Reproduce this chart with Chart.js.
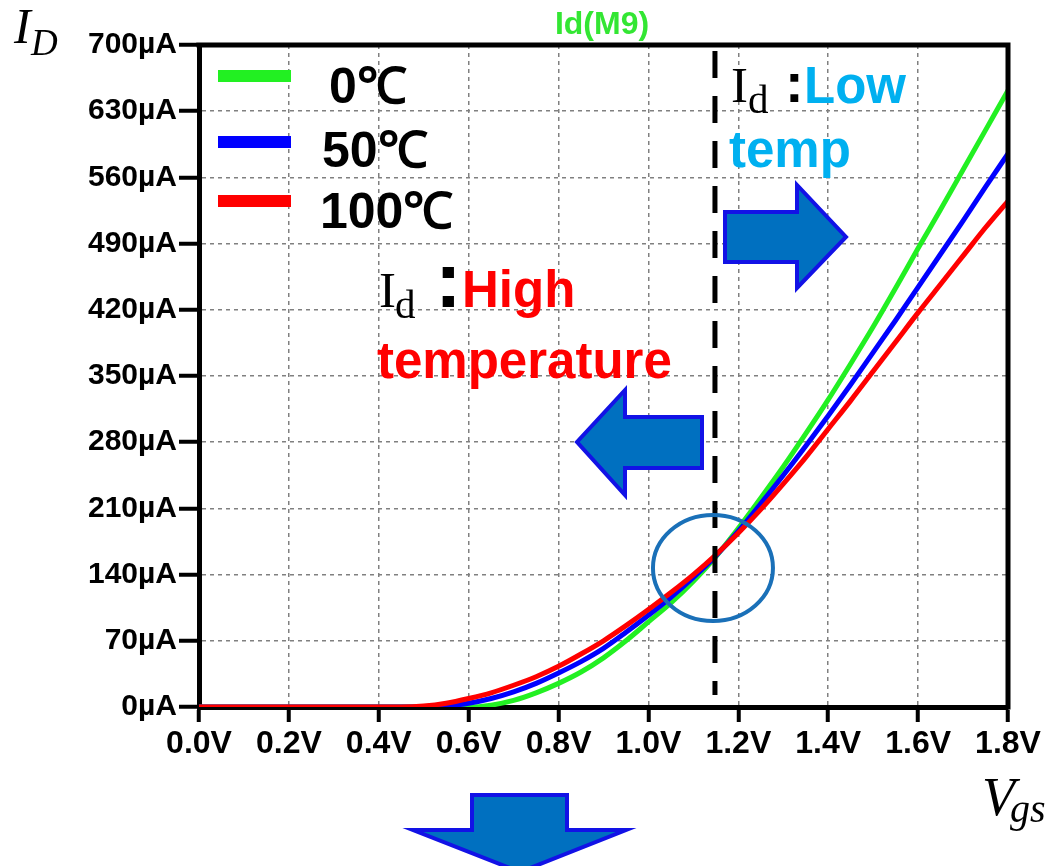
<!DOCTYPE html>
<html>
<head>
<meta charset="utf-8">
<script src="https://cdn.jsdelivr.net/npm/chart.js@4.4.1/dist/chart.umd.min.js"></script>
<style>
  html, body { margin: 0; padding: 0; background: #fff; overflow: hidden; }
  canvas { display: block; }
</style>
</head>
<body>
<canvas id="c" width="1056" height="866"></canvas>
<script>
// Gate voltage sweep (V)
const VGS = [0.0, 0.45, 0.5, 0.55, 0.6, 0.65, 0.7, 0.75, 0.8, 0.85, 0.9, 0.95, 1.0, 1.05, 1.1,
             1.15, 1.2, 1.25, 1.3, 1.35, 1.4, 1.45, 1.5, 1.55, 1.6, 1.65, 1.7, 1.75, 1.8];
// Drain current Id(M9) in µA at each temperature
const ID_0C   = [0, 0, 0, 0, 0, 2, 7, 15, 25, 37, 52, 70, 90, 110, 133,
                 159, 189, 221, 254, 289, 325, 363, 402, 443, 485, 526, 568, 610, 652];
const ID_50C  = [0, 0, 0, 1, 4, 9, 16, 25, 36, 48, 62, 79, 97, 116, 137,
                 160, 186, 215, 245, 276, 308, 341, 375, 409, 444, 479, 514, 550, 585];
const ID_100C = [0, 0, 1, 4, 9, 15, 23, 32, 43, 56, 70, 86, 103, 121, 140,
                 161, 184, 209, 236, 264, 294, 324, 355, 386, 417, 447, 477, 507, 535];
const SERIES_LABELS = ['0℃', '50℃', '100℃'];
const SERIES_COLORS = ['#22f022', '#0000ff', '#ff0000'];
const X_TICKS = [0.0, 0.2, 0.4, 0.6, 0.8, 1.0, 1.2, 1.4, 1.6, 1.8];
const Y_TICKS = [0, 70, 140, 210, 280, 350, 420, 490, 560, 630, 700];
const CROSS_VGS = 1.148;   // temperature-compensation point (V)
const CROSS_ID = 147;      // current at that point (µA)

const toXY = ys => VGS.map((v, i) => ({ x: v, y: ys[i] }));

const SANS = '"Liberation Sans", Arial, sans-serif';
const SERIF = '"Liberation Serif", "Times New Roman", serif';

function blockArrow(ctx, pts) {
  ctx.beginPath();
  ctx.moveTo(pts[0][0], pts[0][1]);
  for (let i = 1; i < pts.length; i++) ctx.lineTo(pts[i][0], pts[i][1]);
  ctx.closePath();
  ctx.fillStyle = '#0070c0';
  ctx.fill();
  ctx.lineWidth = 4;
  ctx.lineJoin = 'miter';
  ctx.strokeStyle = '#1212e6';
  ctx.stroke();
}

const decorations = {
  id: 'decorations',
  afterDatasetsDraw(chart) {
    const { ctx, chartArea: a, scales: { x, y } } = chart;
    ctx.save();

    // top and right frame
    ctx.strokeStyle = '#000';
    ctx.lineWidth = 5;
    ctx.lineCap = 'square';
    ctx.beginPath();
    ctx.moveTo(a.left, a.top);
    ctx.lineTo(a.right, a.top);
    ctx.lineTo(a.right, a.bottom);
    ctx.stroke();
    ctx.lineCap = 'butt';

    // chart title
    ctx.fillStyle = '#33e633';
    ctx.font = 'bold 32px ' + SANS;
    ctx.textAlign = 'center';
    ctx.textBaseline = 'alphabetic';
    ctx.fillText('Id(M9)', 602, 34);
    ctx.textAlign = 'left';

    // legend
    const legendY = [76, 142, 201];
    const legendTextX = [329, 322, 320];
    const legendBase = [103, 167, 228];
    chart.data.datasets.forEach((ds, i) => {
      ctx.strokeStyle = ds.borderColor;
      ctx.lineWidth = 12;
      ctx.beginPath();
      ctx.moveTo(218, legendY[i]);
      ctx.lineTo(291, legendY[i]);
      ctx.stroke();
      ctx.fillStyle = '#000';
      ctx.font = 'bold 50px ' + SANS;
      ctx.fillText(ds.label, legendTextX[i], legendBase[i]);
    });

    // dashed marker at the compensation point
    const cx = x.getPixelForValue(CROSS_VGS);
    ctx.strokeStyle = '#000';
    ctx.lineWidth = 5;
    ctx.setLineDash([27, 18]);
    ctx.beginPath();
    ctx.moveTo(cx, a.top + 6);
    ctx.lineTo(cx, a.bottom - 12);
    ctx.stroke();
    ctx.setLineDash([]);

    // circle around the crossing of the three curves
    ctx.strokeStyle = '#1a70b8';
    ctx.lineWidth = 4;
    ctx.beginPath();
    ctx.ellipse(cx - 2, y.getPixelForValue(CROSS_ID), 60, 53, 0, 0, Math.PI * 2);
    ctx.stroke();

    // "Id : High temperature"
    ctx.fillStyle = '#000';
    ctx.font = '51px ' + SERIF;
    ctx.fillText('I', 379, 307);
    ctx.font = '41px ' + SERIF;
    ctx.fillText('d', 395, 318);
    ctx.font = 'bold 80px ' + SANS;
    ctx.fillText(':', 435, 307);
    ctx.fillStyle = '#ff0000';
    ctx.font = 'bold 51px ' + SANS;
    ctx.fillText('High', 462, 307);
    ctx.fillText('temperature', 377, 378);

    // "Id : Low temp"
    ctx.fillStyle = '#000';
    ctx.font = '51px ' + SERIF;
    ctx.fillText('I', 731, 102);
    ctx.font = '41px ' + SERIF;
    ctx.fillText('d', 748, 113);
    ctx.font = 'bold 56px ' + SANS;
    ctx.fillText(':', 785, 102);
    ctx.fillStyle = '#00b0f0';
    ctx.font = 'bold 51px ' + SANS;
    ctx.fillText('Low', 804, 103);
    ctx.fillText('temp', 729, 167);

    // direction arrows
    blockArrow(ctx, [[725, 212], [797, 212], [797, 185], [846, 237], [797, 288], [797, 262], [725, 262]]);
    blockArrow(ctx, [[702, 417], [625, 417], [625, 390], [577, 442], [625, 495], [625, 468], [702, 468]]);
    blockArrow(ctx, [[472, 795], [567, 795], [567, 830], [626, 830], [520, 872], [413, 830], [472, 830]]);

    // axis titles
    ctx.fillStyle = '#000';
    ctx.font = 'italic 50px ' + SERIF;
    ctx.fillText('I', 14, 43);
    ctx.font = 'italic 37px ' + SERIF;
    ctx.fillText('D', 31, 55);
    ctx.font = 'italic 54px ' + SERIF;
    ctx.fillText('V', 982, 815);
    ctx.font = 'italic 40px ' + SERIF;
    ctx.fillText('gs', 1010, 822);

    ctx.restore();
  }
};

new Chart(document.getElementById('c'), {
  type: 'line',
  data: {
    datasets: [
      { label: SERIES_LABELS[0], data: toXY(ID_0C),   borderColor: SERIES_COLORS[0], order: 3 },
      { label: SERIES_LABELS[1], data: toXY(ID_50C),  borderColor: SERIES_COLORS[1], order: 2 },
      { label: SERIES_LABELS[2], data: toXY(ID_100C), borderColor: SERIES_COLORS[2], order: 1 }
    ]
  },
  options: {
    responsive: false,
    animation: false,
    devicePixelRatio: 1,
    layout: { padding: { left: 0, top: 45, right: 48, bottom: 0 } },
    elements: {
      point: { radius: 0 },
      line: { borderWidth: 5, cubicInterpolationMode: 'monotone', fill: false }
    },
    plugins: { legend: { display: false }, tooltip: { enabled: false }, title: { display: false } },
    scales: {
      x: {
        type: 'linear',
        min: 0, max: 1.8,
        afterBuildTicks: s => { s.ticks = X_TICKS.map(v => ({ value: v })); },
        afterFit: s => { s.height = 159; },
        ticks: {
          color: '#000',
          font: { family: SANS, size: 32, weight: 'bold' },
          padding: 3,
          maxRotation: 0,
          autoSkip: false,
          callback: v => v.toFixed(1) + 'V'
        },
        grid: {
          color: '#808080', lineWidth: 1.5,
          tickColor: '#000', tickWidth: 4, tickLength: 15, tickBorderDash: [0, 0]
        },
        border: { display: true, color: '#000', width: 5, dash: [4, 4] }
      },
      y: {
        type: 'linear',
        min: 0, max: 700,
        afterBuildTicks: s => { s.ticks = Y_TICKS.map(v => ({ value: v })); },
        afterFit: s => { s.width = 199; },
        ticks: {
          color: '#000',
          font: { family: SANS, size: 30, weight: 'bold' },
          padding: 2,
          autoSkip: false,
          callback: v => v + 'µA'
        },
        grid: {
          color: '#808080', lineWidth: 1.5,
          tickColor: '#000', tickWidth: 4, tickLength: 20, tickBorderDash: [0, 0]
        },
        border: { display: true, color: '#000', width: 5, dash: [4, 4] }
      }
    }
  },
  plugins: [decorations]
});
</script>
</body>
</html>
